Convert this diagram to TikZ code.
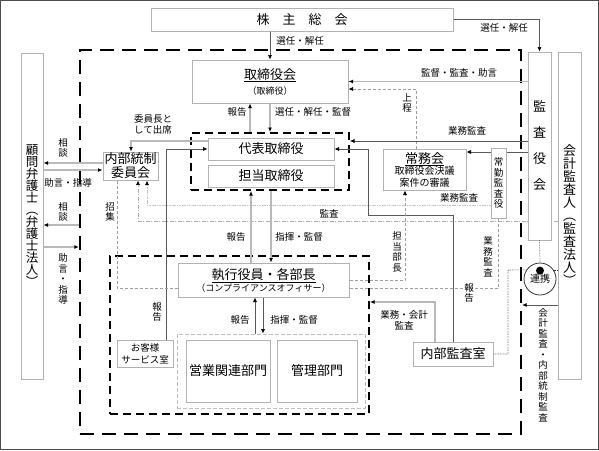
\documentclass[tikz,border=0pt]{standalone}
\usepackage{fontspec}
\setmainfont{Noto Sans CJK JP}
\usetikzlibrary{arrows.meta,backgrounds}

\newcommand\tightlines{\lineskiplimit=-20pt\relax}

\tikzset{
  box/.style={draw=gray!60, line width=1pt, fill=white, inner sep=1pt, align=center},
  big/.style={font=\fontsize{13}{15}\selectfont},
  lbl/.style={font=\fontsize{9.5}{11}\selectfont, inner sep=0pt, align=center},
  tate/.style={font=\fontsize{9.5}{10.5}\selectfont\tightlines, inner sep=0pt, align=center},
  arr/.style={-{Latex[length=4.5pt,width=4pt,black]}},
  link/.style={draw=gray!55, line width=1.3pt},
  wire/.style={draw=black!65, line width=0.6pt},
  thindash/.style={draw=gray!75, line width=0.6pt, dash pattern=on 3pt off 2pt},
  dashdot/.style={draw=gray!65, line width=0.6pt, dash pattern=on 4pt off 1.5pt on 1pt off 1.5pt},
  dashdotlt/.style={draw=gray!45, line width=0.8pt, dash pattern=on 1.5pt off 1pt on 1.5pt off 1pt on 4pt off 1pt},
  dotline/.style={draw=black!80, line width=0.6pt, densely dotted},
  thickdash/.style={draw=black, line width=2.4pt, dash pattern=on 14pt off 8pt},
  middash/.style={draw=black, line width=2pt, dash pattern=on 8pt off 5pt},
  deptdash/.style={draw=gray!50, line width=1pt, dash pattern=on 4pt off 2pt},
}

\begin{document}
\begin{tikzpicture}[x=1pt,y=-1pt]
  \useasboundingbox (0,0) rectangle (599,450);
  \draw[black!70, line width=1pt] (0.5,0.5) rectangle (598.5,449.5);

  % regions
  \node[thickdash, minimum width=441pt, minimum height=384pt] (corp) at (300.5,242) {};
  \node[middash, minimum width=158pt, minimum height=57pt] (grp) at (270,161.5) {};
  \node[middash, minimum width=259pt, minimum height=158pt] (exec) at (239.5,335) {};
  \node[deptdash, minimum width=188pt, minimum height=74pt] (dept) at (271,371) {};

  % boxes
  \node[box, big, minimum width=302pt, minimum height=23pt] (soukai) at (302,19.5) {株　主　総　会};
  \node[box, big, minimum width=156pt, minimum height=43pt] (tori) at (270,81.5)
    {\underline{取締役会}\\{\fontsize{9}{10}\selectfont （取締役）}};
  \node[box, font=\fontsize{13}{26}\selectfont, minimum width=23pt, minimum height=188pt] (kansa) at (539.5,146)
    {監\\査\\役\\会};
  \node[box, font=\fontsize{13}{13}\selectfont\tightlines, minimum width=23pt, minimum height=327pt] (kaikei) at (569.5,215.5)
    {会\\計\\監\\査\\人\\︵\\監\\査\\法\\人\\︶};
  \node[box, font=\fontsize{12.5}{12}\selectfont\tightlines, minimum width=22pt, minimum height=326pt] (komon) at (32,216)
    {顧\\問\\弁\\護\\士\\︵\\弁\\護\\士\\法\\人\\︶};
  \node[box, big, minimum width=126pt, minimum height=22pt] (daihyo) at (271,149) {代表取締役};
  \node[box, big, minimum width=126pt, minimum height=22pt] (tanto) at (271,176) {担当取締役};
  \node[box, font=\fontsize{13}{14}\selectfont, minimum width=55pt, minimum height=28pt] (naibu) at (130.5,166) {内部統制\\委員会};
  \node[box, font=\fontsize{10}{11.5}\selectfont, minimum width=83pt, minimum height=41pt] (jomu) at (424.5,169.5)
    {{\fontsize{13}{13}\selectfont\underline{常務会}}\\取締役会決議\\案件の審議};
  \node[tate, box, minimum width=15pt, minimum height=70pt] (jokin) at (498.5,183) {常\\勤\\監\\査\\役};
  \node[box, minimum width=171pt, minimum height=34pt] (shikko) at (263.5,280)
    {{\fontsize{13}{14}\selectfont\underline{執行役員・各部長}}\\{\fontsize{9}{10}\selectfont （コンプライアンスオフィサー）}};
  \node[box, font=\fontsize{9.5}{12}\selectfont, minimum width=56pt, minimum height=27pt] (okyaku) at (145,353.5) {お客様\\サービス室};
  \node[box, big, minimum width=84pt, minimum height=62pt] (eigyo) at (228,371) {営業関連部門};
  \node[box, big, minimum width=80pt, minimum height=62pt] (kanri) at (317,371) {管理部門};
  \node[box, big, minimum width=80pt, minimum height=24pt] (kansashitsu) at (453,354) {内部監査室};
  \node[circle, draw=black!80, line width=0.8pt, fill=white, minimum size=32pt, inner sep=0pt,
    font=\fontsize{10}{11}\selectfont] (renkei) at (540,279) {\raisebox{-4pt}{連携}};
  \fill[black] ([yshift=-8pt]renkei.north) circle (4pt);

  % routing points
  \coordinate (jotei) at (416,89);
  \coordinate (hoA) at (250,0);
  \coordinate (gyoA) at (0,141);
  \coordinate (jomuLv) at (0,152);
  \coordinate (iin) at (131,141);
  \coordinate (okyR) at (166,149);
  \coordinate (kanR1) at (453,215);
  \coordinate (kanR2) at (368,215);
  \coordinate (gyoB) at (147,205);
  \coordinate (kanC) at (138,221);
  \coordinate (shou) at (117,288);
  \coordinate (gyoD) at (498.5,288);
  \coordinate (tanB) at (405,280);
  \coordinate (renL) at (508,270);
  \coordinate (kaiA) at (0,305);
  \coordinate (gk) at (435,302);
  \coordinate (sdA) at (0,163);
  \coordinate (jdA) at (0,170);
  \coordinate (sdB) at (0,225);
  \coordinate (jdB) at (0,247);
  \coordinate (hoB) at (251,0);
  \coordinate (shiB) at (271,0);
  \coordinate (hoC) at (255,0);
  \coordinate (shiC) at (263,0);

  % connectors
  \draw[wire, arr] (soukai.south -| tori.north) -- (tori.north);
  \draw[wire, arr] (soukai.east) -| (kansa.north);
  \draw[link, arr] (kansa.west |- tori.east) -- (tori.east);
  \draw[thindash, arr] (jomu.north -| jotei) -- (jotei) -- (tori.east |- jotei);
  \draw[link, arr] (grp.north -| hoA) -- (tori.south -| hoA);
  \draw[link, arr] (tori.south) -- (grp.north);
  \draw[wire, arr] (kansa.west |- gyoA) -- (grp.east |- gyoA);
  \draw[link, arr] (daihyo.west |- iin) -- (iin) -- (naibu.north -| iin);
  \draw[wire, arr] (okyaku.north -| okyR) -- (okyR) -- (daihyo.west);
  \draw[wire, arr] (kansashitsu.north) -- (kanR1) -- (kanR2) -- (kanR2 |- daihyo.east) -- (daihyo.east);
  \draw[dashdotlt, arr] (jokin.west |- gyoB) -- (gyoB) -- (naibu.south -| gyoB);
  \draw[thindash] (naibu.south -| shou) -- (shou) -- (shikko.west |- shou);
  \draw[thindash] (jokin.south) -- (gyoD) -- (shikko.east |- gyoD);
  \draw[thindash, arr] (shikko.east |- tanB) -- (tanB) -- (jomu.south -| tanB);
  \draw[dotline] (kansa.south) -- (renkei.north);
  \draw[dotline] (kansashitsu.east) -| (renL) -- (renkei.146);
  \draw[dotline] (renkei.34) -- (kaikei.west |- renkei.34);
  \draw[wire, arr] (kaikei.west |- kaiA) -- (corp.east |- kaiA);
  \draw[link, arr] (kansashitsu.north -| gk) -- (gk) -- (exec.east |- gk);
  \draw[link, arr] (naibu.west |- sdA) -- (komon.east |- sdA);
  \draw[link, arr] (komon.east |- jdA) -- (naibu.west |- jdA);
  \draw[link, arr] (corp.west |- sdB) -- (komon.east |- sdB);
  \draw[link, arr] (komon.east |- jdB) -- (corp.west |- jdB);
  \draw[link, arr] (shikko.north -| hoB) -- (grp.south -| hoB);
  \draw[link, arr] (grp.south -| shiB) -- (shikko.north -| shiB);
  \draw[wire, arr] (dept.north -| hoC) -- (shikko.south -| hoC);
  \draw[wire, arr] (shikko.south -| shiC) -- (dept.north -| shiC);

  \begin{pgfonlayer}{background}
    \draw[dashdot, arr] (kaikei.west |- kanC) -- (kanC) -- (naibu.south -| kanC);
    \draw[wire, arr] (kansa.west |- jomuLv) -- (jomu.east |- jomuLv);
  \end{pgfonlayer}

  % labels
  \node[lbl] (lSenA) at (300,41) {選任・解任};
  \node[lbl] (lSenB) at (504,28) {選任・解任};
  \node[lbl] (lKantoku) at (459,73) {監督・監査・助言};
  \node[tate] (lJotei) at (407,103) {上\\程};
  \node[lbl] (lHoA) at (237,112) {報告};
  \node[lbl] (lSenC) at (313,112) {選任・解任・監督};
  \node[lbl] (lIin) at (153,124) {委員長と\\して出席};
  \node[lbl] (lGyoA) at (467,131) {業務監査};
  \node[lbl] (lGyoB) at (459,198) {業務監査};
  \node[lbl] (lKanC) at (329,214) {監査};
  \node[tate] (lSdA) at (63,148) {相\\談};
  \node[lbl] (lJdA) at (68,183) {助言・指導};
  \node[tate] (lSdB) at (63,212) {相\\談};
  \node[tate] (lJdB) at (63,279) {助\\言\\・\\指\\導};
  \node[tate] (lShou) at (110,212) {招\\集};
  \node[lbl] (lHoB) at (236,237) {報告};
  \node[lbl] (lShiB) at (299,237) {指揮・監督};
  \node[tate] (lTanB) at (397,252) {担\\当\\部\\長};
  \node[tate] (lGyoD) at (488,257) {業\\務\\監\\査};
  \node[tate] (lHoK) at (469,293) {報\\告};
  \node[tate] (lHoO) at (157,312) {報\\告};
  \node[lbl] (lHoC) at (240,320) {報告};
  \node[lbl] (lShiC) at (294,320) {指揮・監督};
  \node[lbl] (lGk) at (404,320) {業務・会計\\監査};
  \node[tate] (lKaiA) at (543,365) {会\\計\\監\\査\\・\\内\\部\\統\\制\\監\\査};
\end{tikzpicture}
\end{document}
